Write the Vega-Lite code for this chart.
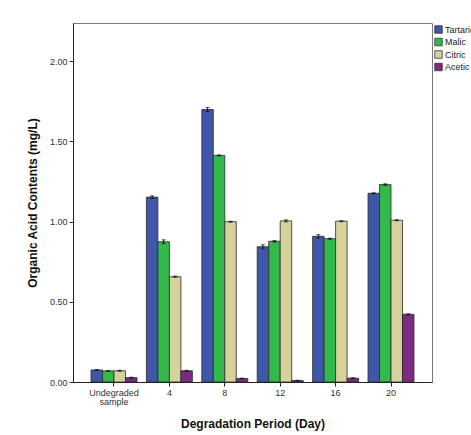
{
  "$schema": "https://vega.github.io/schema/vega-lite/v6.json",
  "width": 359,
  "height": 359,
  "autosize": {"type": "none"},
  "padding": {"left": 73, "top": 23, "right": 39, "bottom": 53},
  "background": "white",
  "config": {
    "font": "Liberation Sans",
    "view": {"stroke": "#7a7a7a", "strokeWidth": 1},
    "axis": {"labelFont": "Liberation Sans", "titleFont": "Liberation Sans", "labelColor": "#333", "titleColor": "#111", "domainColor": "#222", "tickColor": "#222", "grid": false}
  },
  "data": {
    "values": [
      {"period": "Undegraded sample", "acid": "Tartaric", "value": 0.075, "lo": 0.072, "hi": 0.078},
      {"period": "Undegraded sample", "acid": "Malic", "value": 0.069, "lo": 0.067, "hi": 0.071},
      {"period": "Undegraded sample", "acid": "Citric", "value": 0.070, "lo": 0.067, "hi": 0.073},
      {"period": "Undegraded sample", "acid": "Acetic", "value": 0.027, "lo": 0.024, "hi": 0.030},
      {"period": "4", "acid": "Tartaric", "value": 1.152, "lo": 1.144, "hi": 1.160},
      {"period": "4", "acid": "Malic", "value": 0.874, "lo": 0.862, "hi": 0.886},
      {"period": "4", "acid": "Citric", "value": 0.656, "lo": 0.652, "hi": 0.660},
      {"period": "4", "acid": "Acetic", "value": 0.070, "lo": 0.067, "hi": 0.073},
      {"period": "8", "acid": "Tartaric", "value": 1.698, "lo": 1.686, "hi": 1.710},
      {"period": "8", "acid": "Malic", "value": 1.412, "lo": 1.409, "hi": 1.415},
      {"period": "8", "acid": "Citric", "value": 0.999, "lo": 0.996, "hi": 1.002},
      {"period": "8", "acid": "Acetic", "value": 0.022, "lo": 0.020, "hi": 0.024},
      {"period": "12", "acid": "Tartaric", "value": 0.843, "lo": 0.831, "hi": 0.855},
      {"period": "12", "acid": "Malic", "value": 0.877, "lo": 0.872, "hi": 0.882},
      {"period": "12", "acid": "Citric", "value": 1.004, "lo": 0.998, "hi": 1.010},
      {"period": "12", "acid": "Acetic", "value": 0.009, "lo": 0.007, "hi": 0.011},
      {"period": "16", "acid": "Tartaric", "value": 0.908, "lo": 0.898, "hi": 0.918},
      {"period": "16", "acid": "Malic", "value": 0.893, "lo": 0.890, "hi": 0.896},
      {"period": "16", "acid": "Citric", "value": 1.002, "lo": 0.999, "hi": 1.005},
      {"period": "16", "acid": "Acetic", "value": 0.024, "lo": 0.021, "hi": 0.027},
      {"period": "20", "acid": "Tartaric", "value": 1.176, "lo": 1.173, "hi": 1.179},
      {"period": "20", "acid": "Malic", "value": 1.230, "lo": 1.225, "hi": 1.235},
      {"period": "20", "acid": "Citric", "value": 1.008, "lo": 1.005, "hi": 1.011},
      {"period": "20", "acid": "Acetic", "value": 0.422, "lo": 0.419, "hi": 0.425}
    ]
  },
  "encoding": {
    "x": {
      "field": "period", "type": "nominal",
      "sort": ["Undegraded sample", "4", "8", "12", "16", "20"],
      "scale": {"paddingInner": 0.17, "paddingOuter": 0.325},
      "axis": {
        "title": "Degradation Period (Day)", "titleFontSize": 12, "titleFontWeight": "bold", "titlePadding": 12,
        "labelAngle": 0, "labelFontSize": 9, "labelPadding": 2, "tickSize": 4, "labelLineHeight": 9,
        "labelExpr": "datum.label == 'Undegraded sample' ? ['Undegraded', 'sample'] : datum.label"
      }
    },
    "xOffset": {"field": "acid", "type": "nominal", "sort": ["Tartaric", "Malic", "Citric", "Acetic"]}
  },
  "layer": [
    {
      "mark": {"type": "bar", "stroke": "#2a2a2a", "strokeWidth": 0.8},
      "encoding": {
        "y": {
          "field": "value", "type": "quantitative",
          "scale": {"domain": [0, 2.237], "nice": false},
          "axis": {"title": "Organic Acid Contents (mg/L)", "titleFontSize": 12, "titleFontWeight": "bold", "titlePadding": 10,
            "values": [0, 0.5, 1, 1.5, 2], "format": ".2f", "labelFontSize": 9, "tickSize": 4, "labelPadding": 2}
        },
        "color": {
          "field": "acid", "type": "nominal",
          "sort": ["Tartaric", "Malic", "Citric", "Acetic"],
          "scale": {"domain": ["Tartaric", "Malic", "Citric", "Acetic"], "range": ["#3f56a9", "#33b84a", "#d7d19c", "#7d2a80"]},
          "legend": {
            "title": null, "orient": "none", "legendX": 361, "legendY": 2,
            "symbolType": "square", "symbolSize": 56, "symbolStrokeColor": "#333", "symbolStrokeWidth": 0.8,
            "labelFontSize": 9, "labelColor": "#222", "labelOffset": 2, "rowPadding": 1.5, "padding": 0, "symbolOpacity": 1
          }
        }
      }
    },
    {
      "mark": {"type": "rule", "color": "#111", "strokeWidth": 1},
      "encoding": {
        "y": {"field": "lo", "type": "quantitative"},
        "y2": {"field": "hi"}
      }
    },
    {
      "mark": {"type": "tick", "color": "#111", "size": 4, "thickness": 1},
      "encoding": {"y": {"field": "hi", "type": "quantitative"}}
    },
    {
      "mark": {"type": "tick", "color": "#111", "size": 4, "thickness": 1},
      "encoding": {"y": {"field": "lo", "type": "quantitative"}}
    }
  ]
}
